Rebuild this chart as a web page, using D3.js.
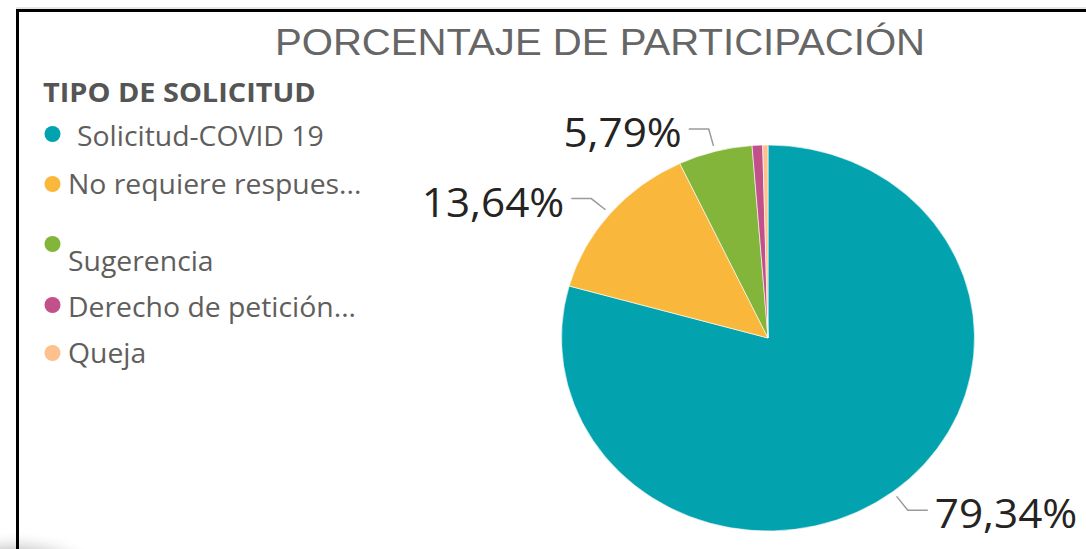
<!DOCTYPE html>
<html lang="es">
<head>
<meta charset="utf-8">
<title>Porcentaje de participación</title>
<style>
body {
	margin: 0;
	background: #fff;
}
#chart svg {
	display: block;
}
.title {
	font-family: "Liberation Sans", Arial, sans-serif;
	fill: #666;
}
.legend-title {
	font-family: "Open Sans", sans-serif;
	font-weight: bold;
	fill: #555;
}
.legend-text {
	font-family: "Open Sans", sans-serif;
	fill: #605e5c;
}
.label {
	font-family: "Open Sans", sans-serif;
	fill: #252423;
}
.leader {
	fill: none;
	stroke: #9a9a9a;
	stroke-width: 1.5px;
}
</style>
</head>
<body>
<div id="chart"></div>

<script src="https://d3js.org/d3.v7.min.js"></script>
<script>
	// data
	var categories = ["Solicitud-COVID 19", "No requiere respuesta", "Sugerencia", "Derecho de petición", "Queja"];
	var legendLabels = ["Solicitud-COVID 19", "No requiere respues...", "Sugerencia", "Derecho de petición...", "Queja"];
	var values = [79.34, 13.64, 5.79, 0.82, 0.41];
	var showLabel = [true, true, true, false, false];
	var colors = ["#02a3ae", "#f9b83c", "#82b53a", "#c2508a", "#fcc18c"];

	var width = 1086, height = 549;
	// the picture is a bit wider than tall, everything is stretched horizontally
	var sx = 1.07;

	var svg = d3.select("#chart").append("svg")
		.attr("width", width)
		.attr("height", height);

	// stretched text helper
	function stext(g, x, y, cls, size, str, anchor) {
		return g.append("text")
			.attr("class", cls)
			.attr("transform", "translate(" + x + "," + y + ") scale(" + sx + ",1)")
			.attr("text-anchor", anchor || "start")
			.style("font-size", size + "px")
			.text(str);
	}

	// shadow bottom-left
	var defs = svg.append("defs");
	var grad = defs.append("radialGradient").attr("id", "shadow");
	grad.append("stop").attr("offset", "0%").attr("stop-color", "#777").attr("stop-opacity", 1);
	grad.append("stop").attr("offset", "45%").attr("stop-color", "#aaa").attr("stop-opacity", 0.8);
	grad.append("stop").attr("offset", "100%").attr("stop-color", "#fff").attr("stop-opacity", 0);
	svg.append("ellipse")
		.attr("cx", 15).attr("cy", 575)
		.attr("rx", 95).attr("ry", 45)
		.attr("fill", "url(#shadow)");

	// frame
	svg.append("line")
		.attr("x1", 16).attr("x2", width).attr("y1", 8).attr("y2", 8)
		.attr("stroke", "#ccc").attr("stroke-width", 1);
	svg.append("path")
		.attr("d", "M17.5," + height + "V10.5H" + width)
		.attr("fill", "none").attr("stroke", "#000").attr("stroke-width", 3);

	stext(svg, 600, 55, "title", 37.5, "PORCENTAJE DE PARTICIPACIÓN", "middle");

	// legend
	var legendTop = [134, 184, 244, 305, 353];
	var legendBase = [146, 194, 271, 317, 363];
	var legendX = [77, 68, 68, 68, 68];

	stext(svg, 43, 102, "legend-title", 27, "TIPO DE SOLICITUD");

	var legend = svg.append("g");
	legend.selectAll("circle")
		.data(categories)
		.join("circle")
		.attr("cx", 52.5)
		.attr("cy", function(d, i) { return legendTop[i]; })
		.attr("r", 8)
		.attr("fill", function(d, i) { return colors[i]; });

	legendLabels.forEach(function(d, i) {
		stext(legend, legendX[i], legendBase[i], "legend-text", 26.5, d);
	});

	// pie
	var cx = 768, cy = 338, r = 193;

	var pie = d3.pie().sort(null).value(function(d) { return d; });
	var arcs = pie(values);
	var arc = d3.arc().innerRadius(0).outerRadius(r);

	svg.append("g")
		.attr("transform", "translate(" + cx + "," + cy + ") scale(" + sx + ",1)")
		.selectAll("path")
		.data(arcs)
		.join("path")
		.attr("d", arc)
		.attr("fill", function(d, i) { return colors[i]; })
		.attr("stroke", "#fff")
		.attr("stroke-width", 0.6);

	// labels with leader lines
	var fmt = function(v) { return d3.format(".2f")(v).replace(".", ",") + "%"; };
	var labels = svg.append("g");

	arcs.forEach(function(a, i) {
		if (!showLabel[i]) return;
		var mid = (a.startAngle + a.endAngle) / 2;
		var dx = Math.sin(mid), dy = -Math.cos(mid);
		var p0 = [cx + dx * r * 1.03 * sx, cy + dy * r * 1.03];
		var p1 = [cx + dx * r * 1.12 * sx, cy + dy * r * 1.12];
		var side = dx >= 0 ? 1 : -1;
		var p2 = [p1[0] + side * 20, p1[1]];

		labels.append("path")
			.attr("class", "leader")
			.attr("d", "M" + p0 + "L" + p1 + "L" + p2);

		stext(labels, p2[0] + side * 7, p2[1] + 18, "label", 39.5, fmt(values[i]), side > 0 ? "start" : "end");
	});
</script>
</body>
</html>
